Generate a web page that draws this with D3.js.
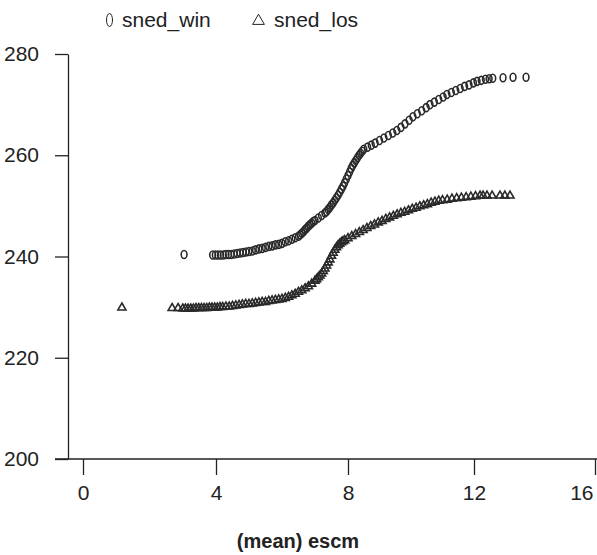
<!DOCTYPE html>
<html>
<head>
<meta charset="utf-8">
<script src="https://cdn.jsdelivr.net/npm/d3@7"></script>
<style>
  body { margin: 0; background: #fff; }
  svg { display: block; font-family: "Liberation Sans", Arial, sans-serif; }
</style>
</head>
<body>
<div id="chart"></div>
<script>
// values
var seriesNames = ["sned_win", "sned_los"];

var winX = [3.04, 3.90, 3.98, 4.06, 4.14, 4.22, 4.30, 4.38, 4.46, 4.55, 4.64, 4.73, 4.82, 4.91, 5.00,
  5.10, 5.20, 5.30, 5.40, 5.50, 5.60, 5.70, 5.80, 5.90, 6.00, 6.10, 6.20, 6.30, 6.40, 6.50,
  6.55, 6.60, 6.65, 6.70, 6.75, 6.80, 6.85, 6.90, 6.95, 7.00, 7.10, 7.20, 7.30, 7.35, 7.40,
  7.45, 7.50, 7.55, 7.60, 7.65, 7.70, 7.75, 7.80, 7.85, 7.90, 7.95, 8.00, 8.05, 8.10, 8.15,
  8.20, 8.25, 8.30, 8.35, 8.40, 8.45, 8.50, 8.62, 8.74, 8.86, 9.00, 9.14, 9.28, 9.42, 9.55,
  9.68, 9.81, 9.94, 10.06, 10.20, 10.34, 10.48, 10.60, 10.74, 10.88, 11.02, 11.14, 11.28, 11.42, 11.56,
  11.70, 11.84, 11.98, 12.10, 12.24, 12.38, 12.50, 12.62, 12.96, 13.29, 13.72];
var winY = [240.4, 240.3, 240.3, 240.3, 240.3, 240.3, 240.4, 240.4, 240.4, 240.5, 240.6, 240.7, 240.8, 240.9, 241.0,
  241.1, 241.3, 241.5, 241.6, 241.8, 242.0, 242.1, 242.3, 242.4, 242.6, 242.9, 243.1, 243.4, 243.7, 244.0,
  244.3, 244.6, 244.9, 245.3, 245.6, 246.0, 246.3, 246.6, 246.9, 247.1, 247.6, 248.1, 248.6, 248.9, 249.3,
  249.7, 250.2, 250.6, 251.1, 251.6, 252.1, 252.7, 253.3, 253.9, 254.6, 255.3, 256.0, 256.7, 257.4, 258.0,
  258.5, 259.0, 259.5, 260.0, 260.4, 260.8, 261.2, 261.6, 262.0, 262.4, 262.9, 263.4, 263.9, 264.4, 264.9,
  265.5, 266.2, 266.9, 267.6, 268.2, 268.8, 269.4, 270.0, 270.5, 271.0, 271.5, 272.0, 272.4, 272.8, 273.2,
  273.6, 273.9, 274.3, 274.6, 274.8, 275.0, 275.1, 275.2, 275.3, 275.4, 275.4];

var losX = [1.17, 2.68, 2.86, 3.00, 3.08, 3.16, 3.24, 3.32, 3.40, 3.48, 3.56, 3.64, 3.72, 3.80, 3.88,
  3.96, 4.04, 4.12, 4.20, 4.30, 4.40, 4.50, 4.60, 4.70, 4.80, 4.90, 5.00, 5.10, 5.20, 5.30,
  5.40, 5.50, 5.60, 5.70, 5.80, 5.90, 6.00, 6.10, 6.20, 6.30, 6.40, 6.50, 6.60, 6.70, 6.80,
  6.90, 7.00, 7.05, 7.10, 7.15, 7.20, 7.25, 7.30, 7.35, 7.40, 7.45, 7.50, 7.55, 7.60, 7.65,
  7.70, 7.75, 7.80, 7.85, 7.90, 8.00, 8.12, 8.24, 8.36, 8.48, 8.60, 8.72, 8.84, 8.96, 9.08,
  9.20, 9.32, 9.44, 9.56, 9.68, 9.80, 9.92, 10.04, 10.16, 10.28, 10.40, 10.52, 10.64, 10.76, 10.88,
  11.00, 11.15, 11.30, 11.45, 11.60, 11.75, 11.90, 12.05, 12.20, 12.30, 12.43, 12.60, 12.86, 13.02, 13.19];
var losY = [229.9, 229.8, 229.8, 229.7, 229.7, 229.7, 229.7, 229.7, 229.8, 229.8, 229.8, 229.8, 229.8, 229.9, 229.9,
  229.9, 229.9, 230.0, 230.0, 230.1, 230.1, 230.2, 230.3, 230.4, 230.5, 230.6, 230.6, 230.7, 230.8, 230.9,
  231.0, 231.0, 231.2, 231.3, 231.4, 231.5, 231.6, 231.8, 232.0, 232.3, 232.6, 233.0, 233.3, 233.7, 234.1,
  234.6, 235.2, 235.5, 235.9, 236.2, 236.6, 237.1, 237.6, 238.2, 238.8, 239.4, 240.1, 240.7, 241.3, 241.8,
  242.2, 242.5, 242.8, 243.0, 243.2, 243.6, 244.0, 244.4, 244.8, 245.2, 245.6, 246.0, 246.3, 246.7, 247.0,
  247.4, 247.7, 248.0, 248.3, 248.6, 248.8, 249.1, 249.4, 249.6, 249.9, 250.1, 250.3, 250.6, 250.8, 251.0,
  251.1, 251.2, 251.4, 251.5, 251.6, 251.7, 251.8, 251.9, 252.0, 252.0, 252.0, 252.0, 252.0, 252.0, 252.0];

var xTicks = [0, 4, 8, 12, 16];
var yTicks = [200, 220, 240, 260, 280];

var width = 597, height = 555;
var ink = "#222";

var svg = d3.select("#chart").append("svg")
    .attr("width", width)
    .attr("height", height);

// the scan is slightly stretched, so the x scale follows the printed ticks
var x = d3.scaleLinear()
    .domain(xTicks)
    .range([83, 216, 348, 474, 595]);

var y = d3.scaleLinear()
    .domain([200, 280])
    .range([459, 54]);

// y axis
var yAxis = svg.append("g")
    .attr("transform", "translate(68,0)")
    .call(d3.axisLeft(y).tickValues(yTicks).tickSize(13).tickSizeOuter(0).tickPadding(16));
yAxis.select(".domain").attr("stroke", ink).attr("stroke-width", 1.3);
yAxis.selectAll(".tick line").attr("stroke", ink).attr("stroke-width", 1.3);
yAxis.selectAll(".tick text")
    .attr("fill", ink)
    .style("font-size", "21px");

// x axis
var xAxis = svg.append("g")
    .attr("transform", "translate(0,459)")
    .call(d3.axisBottom(x).tickValues(xTicks).tickSize(16).tickSizeOuter(0).tickPadding(10));
xAxis.select(".domain").remove();
xAxis.selectAll(".tick line").attr("stroke", ink).attr("stroke-width", 1.3);
xAxis.selectAll(".tick text")
    .attr("fill", ink)
    .style("font-size", "21px")
    .attr("text-anchor", function(d) { return d == 16 ? "end" : "middle"; })
    .attr("dx", function(d) { return d == 16 ? -2 : 0; });
xAxis.append("line")
    .attr("x1", 55).attr("x2", width)
    .attr("stroke", ink).attr("stroke-width", 1.3);

svg.append("text")
    .attr("x", 298)
    .attr("y", 548)
    .attr("text-anchor", "middle")
    .attr("fill", ink)
    .style("font-size", "20px")
    .style("font-weight", "bold")
    .text("(mean) escm");

// markers
var winData = winX.map(function(v, i) { return {x: v, y: winY[i]}; });
var losData = losX.map(function(v, i) { return {x: v, y: losY[i]}; });

var tri = d3.symbol().type(d3.symbolTriangle).size(28);

svg.append("g").selectAll("path")
    .data(losData)
    .enter()
    .append("path")
    .attr("d", tri)
    .attr("transform", function(d) { return "translate(" + x(d.x) + "," + y(d.y) + ")"; })
    .attr("fill", "none")
    .attr("stroke", "#2a2a2a")
    .attr("stroke-width", 1.6);

svg.append("g").selectAll("ellipse")
    .data(winData)
    .enter()
    .append("ellipse")
    .attr("cx", function(d) { return x(d.x); })
    .attr("cy", function(d) { return y(d.y); })
    .attr("rx", 2.9)
    .attr("ry", 4)
    .attr("fill", "none")
    .attr("stroke", "#2a2a2a")
    .attr("stroke-width", 1.6);

// legend
var legend = svg.append("g");
legend.append("ellipse")
    .attr("cx", 109.5).attr("cy", 20)
    .attr("rx", 3).attr("ry", 6.5)
    .attr("fill", "none").attr("stroke", ink).attr("stroke-width", 1);
legend.append("text")
    .attr("x", 122).attr("y", 27)
    .attr("fill", ink)
    .style("font-size", "21px")
    .text(seriesNames[0]);
legend.append("path")
    .attr("d", d3.symbol().type(d3.symbolTriangle).size(60))
    .attr("transform", "translate(258.5,21)")
    .attr("fill", "none").attr("stroke", ink).attr("stroke-width", 1);
legend.append("text")
    .attr("x", 274).attr("y", 27)
    .attr("fill", ink)
    .style("font-size", "21px")
    .text(seriesNames[1]);
</script>
</body>
</html>
